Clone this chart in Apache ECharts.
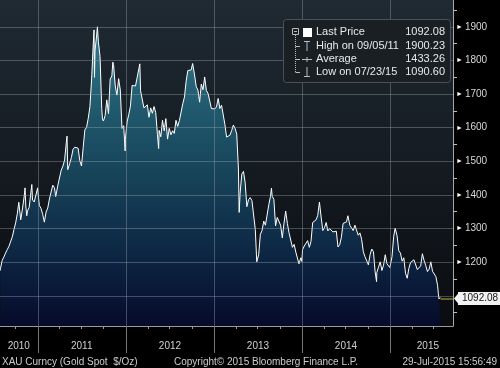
<!DOCTYPE html>
<html><head><meta charset="utf-8">
<script src="https://cdn.jsdelivr.net/npm/echarts@6/dist/echarts.min.js"></script>
<style>html,body{margin:0;padding:0;background:#000;}#c{width:500px;height:368px;}</style>
</head><body><div id="c"></div>
<script>
const dates = [
'2010-07-29','2010-07-30','2010-08-06','2010-08-13','2010-08-20','2010-08-27','2010-09-03','2010-09-10','2010-09-17','2010-09-24',
'2010-10-01','2010-10-08','2010-10-14','2010-10-22','2010-10-29','2010-11-05','2010-11-09','2010-11-12','2010-11-16','2010-11-19',
'2010-11-26','2010-12-03','2010-12-07','2010-12-10','2010-12-17','2010-12-24','2010-12-31',
'2011-01-07','2011-01-14','2011-01-21','2011-01-28','2011-02-04','2011-02-11','2011-02-18','2011-02-25','2011-03-04','2011-03-11',
'2011-03-16','2011-03-25','2011-04-01','2011-04-08','2011-04-15','2011-04-22','2011-04-29','2011-05-02','2011-05-05','2011-05-13',
'2011-05-20','2011-05-27','2011-06-03','2011-06-10','2011-06-17','2011-06-24','2011-07-01','2011-07-08','2011-07-15','2011-07-22',
'2011-07-29','2011-08-05','2011-08-12','2011-08-19','2011-08-22','2011-08-24','2011-08-26','2011-09-02','2011-09-05','2011-09-09',
'2011-09-16','2011-09-23','2011-09-26','2011-09-30','2011-10-07','2011-10-14','2011-10-21','2011-10-28','2011-11-04','2011-11-08',
'2011-11-11','2011-11-18','2011-11-25','2011-12-02','2011-12-09','2011-12-16','2011-12-23','2011-12-29','2011-12-30',
'2012-01-06','2012-01-13','2012-01-20','2012-01-27','2012-02-03','2012-02-10','2012-02-17','2012-02-24','2012-02-28','2012-03-02',
'2012-03-09','2012-03-16','2012-03-23','2012-03-30','2012-04-06','2012-04-13','2012-04-20','2012-04-27','2012-05-04','2012-05-11',
'2012-05-16','2012-05-18','2012-05-25','2012-06-01','2012-06-08','2012-06-15','2012-06-22','2012-06-29','2012-07-06','2012-07-13',
'2012-07-20','2012-07-27','2012-08-03','2012-08-10','2012-08-17','2012-08-24','2012-08-31','2012-09-07','2012-09-14','2012-09-21',
'2012-09-28','2012-10-04','2012-10-12','2012-10-19','2012-10-26','2012-11-02','2012-11-09','2012-11-16','2012-11-23','2012-11-30',
'2012-12-07','2012-12-14','2012-12-21','2012-12-28',
'2013-01-04','2013-01-11','2013-01-18','2013-01-25','2013-02-01','2013-02-08','2013-02-15','2013-02-22','2013-03-01','2013-03-08',
'2013-03-15','2013-03-22','2013-03-29','2013-04-05','2013-04-12','2013-04-15','2013-04-19','2013-04-26','2013-05-03','2013-05-10',
'2013-05-17','2013-05-24','2013-05-31','2013-06-07','2013-06-14','2013-06-21','2013-06-27','2013-07-05','2013-07-12','2013-07-19',
'2013-07-26','2013-08-02','2013-08-09','2013-08-16','2013-08-23','2013-08-27','2013-08-30','2013-09-06','2013-09-13','2013-09-20',
'2013-09-27','2013-10-04','2013-10-11','2013-10-18','2013-10-25','2013-11-01','2013-11-08','2013-11-15','2013-11-22','2013-11-29',
'2013-12-06','2013-12-13','2013-12-19','2013-12-27','2013-12-31',
'2014-01-03','2014-01-10','2014-01-17','2014-01-24','2014-01-31','2014-02-07','2014-02-14','2014-02-21','2014-02-28','2014-03-07',
'2014-03-14','2014-03-17','2014-03-21','2014-03-28','2014-04-04','2014-04-11','2014-04-18','2014-04-25','2014-05-02','2014-05-09',
'2014-05-16','2014-05-23','2014-05-30','2014-06-06','2014-06-13','2014-06-20','2014-06-27','2014-07-04','2014-07-10','2014-07-18',
'2014-07-25','2014-08-01','2014-08-08','2014-08-15','2014-08-22','2014-08-29','2014-09-05','2014-09-12','2014-09-19','2014-09-26',
'2014-10-03','2014-10-10','2014-10-17','2014-10-24','2014-10-31','2014-11-06','2014-11-07','2014-11-14','2014-11-21','2014-11-28',
'2014-12-05','2014-12-12','2014-12-19','2014-12-26','2014-12-31',
'2015-01-02','2015-01-09','2015-01-16','2015-01-22','2015-01-30','2015-02-06','2015-02-13','2015-02-20','2015-02-27','2015-03-06',
'2015-03-13','2015-03-17','2015-03-20','2015-03-27','2015-04-03','2015-04-10','2015-04-17','2015-04-24','2015-05-01','2015-05-08',
'2015-05-15','2015-05-22','2015-05-29','2015-06-05','2015-06-12','2015-06-19','2015-06-26','2015-07-03','2015-07-10','2015-07-17',
'2015-07-20','2015-07-23','2015-07-24','2015-07-28','2015-07-29'
];
const prices = [
1175,1181,1205,1215,1227,1237,1247,1246,1275,1297,
1317,1345,1378,1326,1358,1394,1421,1367,1338,1352,
1363,1406,1431,1385,1379,1380,1421,
1369,1360,1342,1319,1349,1361,1388,1409,1429,1421,
1395,1429,1429,1474,1486,1504,1556,1575,1475,1493,
1511,1536,1542,1541,1539,1502,1486,1541,1594,1601,
1628,1663,1745,1852,1891,1750,1828,1876,1900.23,1856,
1811,1657,1626,1620,1636,1683,1642,1745,1754,1795,
1788,1724,1697,1746,1712,1598,1606,1531,1565,
1617,1639,1664,1726,1725,1724,1725,1776,1790,1710,
1711,1659,1662,1668,1631,1659,1643,1663,1645,1580,
1538,1592,1573,1622,1591,1627,1566,1598,1579,1591,
1583,1622,1604,1621,1616,1671,1691,1738,1770,1774,
1772,1791,1757,1722,1712,1676,1730,1713,1751,1711,
1702,1697,1657,1656,
1656,1662,1687,1657,1667,1667,1609,1572,1576,1578,
1592,1608,1598,1581,1477,1348,1405,1462,1470,1436,
1365,1386,1392,1383,1387,1297,1201,1222,1283,1294,
1322,1310,1312,1371,1396,1420,1396,1387,1308,1333,
1337,1310,1272,1316,1352,1315,1287,1288,1244,1253,
1230,1235,1195,1213,1202,
1237,1248,1252,1264,1244,1262,1318,1323,1326,1339,
1379,1382,1334,1294,1303,1318,1293,1300,1302,1290,
1293,1292,1245,1252,1274,1315,1316,1320,1338,1310,
1307,1294,1310,1305,1280,1287,1268,1231,1216,1218,
1192,1222,1239,1231,1171,1142,1169,1185,1201,1175,
1191,1222,1195,1195,1184,
1186,1216,1277,1301,1279,1234,1227,1203,1213,1167,
1152,1148,1182,1199,1201,1207,1203,1178,1179,1189,
1225,1205,1190,1172,1179,1201,1173,1168,1157,1131,
1107,1090.60,1096,1095,1092.08
];
const yearLabels = ['2010','2011','2012','2013','2014','2015'];
const yearLabelDates = ['2010-10-14','2011-07-02','2012-07-02','2013-07-02','2014-07-02','2015-06-07'];
const yearStarts = ['2011-01-01','2012-01-01','2013-01-01','2014-01-01','2015-01-01'];
const quarterTicks = [
'2010-10-01','2011-01-01','2011-04-01','2011-07-01','2011-10-01','2012-01-01','2012-04-01','2012-07-01','2012-10-01',
'2013-01-01','2013-04-01','2013-07-01','2013-10-01','2014-01-01','2014-04-01','2014-07-01','2014-10-01',
'2015-01-01','2015-04-01','2015-07-01'
];
const yGridValues = [1100,1200,1300,1400,1500,1600,1700,1800,1900];
const yLabelValues = [1200,1300,1400,1500,1600,1700,1800,1900];
const yMinorTicks = [1050,1150,1250,1350,1450,1550,1650,1750,1850,1950];
const legendNames = ['Last Price','High on 09/05/11','Average','Low on 07/23/15'];
const legendValues = ['1092.08','1900.23','1433.26','1090.60'];
const footerTexts = ['XAU Curncy (Gold Spot  $/Oz)','Copyright\u00a9 2015 Bloomberg Finance L.P.','29-Jul-2015 15:56:49'];
const xStart = '2010-07-28', xEnd = '2015-09-19';
const yMin = 1010, yMax = 1980;

function ts(s){const p=s.split('-');return Date.UTC(+p[0],+p[1]-1,+p[2]);}
const seriesData = dates.map((d,i)=>[ts(d),prices[i]]);
const lastDate = ts(dates[dates.length-1]);
const lastPrice = prices[prices.length-1];
const labelTs = yearLabelDates.map(ts);
const X0 = ts(xStart), X1 = ts(xEnd);
const FONT = '"Liberation Sans", Arial, sans-serif';

const chart = echarts.init(document.getElementById('c'));
const iconColor = '#b8bcc0';
const rowY = [32,46,59,72];
const graphics = [
  {type:'rect', z:100, shape:{x:283.5,y:19.5,width:167,height:63,r:3}, style:{fill:'#1a1f24',stroke:'#4a5056',lineWidth:1}},
  {type:'rect', z:101, shape:{x:292.5,y:28.5,width:6,height:6}, style:{fill:'none',stroke:iconColor,lineWidth:1}},
  {type:'line', z:101, shape:{x1:294,y1:31.5,x2:297,y2:31.5}, style:{stroke:iconColor,lineWidth:1}},
  {type:'line', z:101, shape:{x1:295.5,y1:35,x2:295.5,y2:72.5}, style:{stroke:iconColor,lineWidth:1,lineDash:[1,1]}},
  {type:'line', z:101, shape:{x1:295.5,y1:46.5,x2:300,y2:46.5}, style:{stroke:iconColor,lineWidth:1}},
  {type:'line', z:101, shape:{x1:295.5,y1:59.5,x2:300,y2:59.5}, style:{stroke:iconColor,lineWidth:1}},
  {type:'line', z:101, shape:{x1:295.5,y1:72.5,x2:300,y2:72.5}, style:{stroke:iconColor,lineWidth:1}},
  {type:'rect', z:101, shape:{x:303,y:28,width:9,height:9}, style:{fill:'#ffffff'}},
  {type:'line', z:101, shape:{x1:304,y1:41.5,x2:310,y2:41.5}, style:{stroke:iconColor,lineWidth:1}},
  {type:'line', z:101, shape:{x1:307,y1:41.5,x2:307,y2:51}, style:{stroke:iconColor,lineWidth:1}},
  {type:'line', z:101, shape:{x1:302,y1:59.5,x2:312,y2:59.5}, style:{stroke:iconColor,lineWidth:1}},
  {type:'line', z:101, shape:{x1:307,y1:57,x2:307,y2:62}, style:{stroke:iconColor,lineWidth:1}},
  {type:'line', z:101, shape:{x1:307,y1:67,x2:307,y2:76.5}, style:{stroke:iconColor,lineWidth:1}},
  {type:'line', z:101, shape:{x1:304,y1:76.5,x2:310,y2:76.5}, style:{stroke:iconColor,lineWidth:1}}
];
legendNames.forEach((n,i)=>{
  graphics.push({type:'text', z:102, style:{text:n, x:316, y:rowY[i], fill:'#e8e8e8', font:'11px '+FONT, textAlign:'left', textVerticalAlign:'middle'}});
  graphics.push({type:'text', z:102, style:{text:legendValues[i], x:445, y:rowY[i], fill:'#e8e8e8', font:'11px '+FONT, textAlign:'right', textVerticalAlign:'middle'}});
});
graphics.push({type:'text', style:{text:footerTexts[0], x:2, y:362, fill:'#cccccc', font:'10px '+FONT, textAlign:'left', textVerticalAlign:'middle'}});
graphics.push({type:'text', style:{text:footerTexts[1], x:174, y:362, fill:'#cccccc', font:'10px '+FONT, textAlign:'left', textVerticalAlign:'middle'}});
graphics.push({type:'text', style:{text:footerTexts[2], x:497, y:362, fill:'#cccccc', font:'10px '+FONT, textAlign:'right', textVerticalAlign:'middle'}});

const gridLineStyle = {color:'rgba(150,158,168,0.42)', type:'solid', width:1};
const gridPairs = yGridValues.map(v=>[{coord:[X0,v], lineStyle:gridLineStyle},{coord:[X1,v]}])
  .concat(yearStarts.map(d=>[{coord:[ts(d),yMin], lineStyle:gridLineStyle},{coord:[ts(d),yMax]}]));

chart.setOption({
  backgroundColor:'#000',
  animation:false,
  graphic: graphics,
  grid:{left:0,right:47,top:0,bottom:42,show:true,borderWidth:0,outerBoundsMode:'none',containLabel:false,
    backgroundColor:{type:'linear',x:0,y:0,x2:0,y2:1,colorStops:[{offset:0,color:'#1f2a33'},{offset:1,color:'#0a0c10'}]}},
  xAxis:[{
    type:'value', min:X0, max:X1,
    axisLine:{show:true,lineStyle:{color:'#9a9a9a',width:1}},
    axisTick:{show:true,customValues:quarterTicks.map(ts),length:3,lineStyle:{color:'#9a9a9a'}},
    axisLabel:{customValues:labelTs, margin:15, color:'#d0d0d0', fontSize:10, fontFamily:FONT,
      formatter:(v)=>{const k=labelTs.indexOf(v);return k>=0?yearLabels[k]:String(new Date(v).getUTCFullYear());}},
    splitLine:{show:false}
  },{
    type:'value', min:X0, max:X1, position:'bottom',
    axisLine:{show:false},
    axisTick:{show:true,customValues:yearStarts.map(ts),length:27,lineStyle:{color:'#747474'}},
    axisLabel:{show:false},
    splitLine:{show:false}
  }],
  yAxis:{
    type:'value', position:'right', min:yMin, max:yMax,
    axisLine:{show:true,lineStyle:{color:'#a8a8a8',width:1}},
    axisTick:{show:true,customValues:yMinorTicks,length:4,lineStyle:{color:'#bdbdbd'}},
    axisLabel:{customValues:yLabelValues, margin:3,
      formatter:(v)=>'{t|\u25BA}{n|'+v+'}',
      rich:{t:{fontSize:7,color:'#ffffff',padding:[0,2,0,0],fontFamily:FONT},n:{fontSize:10,color:'#d8d8d8',fontFamily:FONT}}},
    splitLine:{show:false}
  },
  series:[{
    type:'line', data:seriesData, showSymbol:false, symbol:'none', clip:false, z:2,
    lineStyle:{color:'#ffffff',width:1},
    areaStyle:{origin:'start', color:{type:'linear',x:0,y:0,x2:0,y2:1,colorStops:[
      {offset:0,color:'#3d9db2'},{offset:0.3,color:'#226e88'},{offset:0.5,color:'#185470'},{offset:0.75,color:'#0c3058'},{offset:1,color:'#040a35'}]}},
    markPoint:{silent:true, animation:false, label:{show:false},
      data:[{coord:[X1,lastPrice], symbol:'triangle', symbolSize:[12,5], symbolRotate:90, symbolOffset:[3.5,0], itemStyle:{color:'#f2f2f2'}}]}
  },{
    type:'line', data:[], z:4, silent:true,
    markLine:{silent:true, symbol:['none','none'], animation:false, label:{show:false},
      data: gridPairs}
  },{
    type:'line', data:[], z:5, silent:true,
    markLine:{silent:true, symbol:['none','none'], animation:false,
      data:[[
        {coord:[lastDate,lastPrice], lineStyle:{color:'#8c7b2c',type:'solid',width:1.5},
         label:{show:true, position:'end', distance:5, formatter: lastPrice.toFixed(2), color:'#111', backgroundColor:'#f2f2f2',
                padding:[1,4,1,4], fontSize:10, lineHeight:11, fontFamily:FONT}},
        {coord:[X1,lastPrice]}
      ]]}
  }]
});
</script></body></html>
